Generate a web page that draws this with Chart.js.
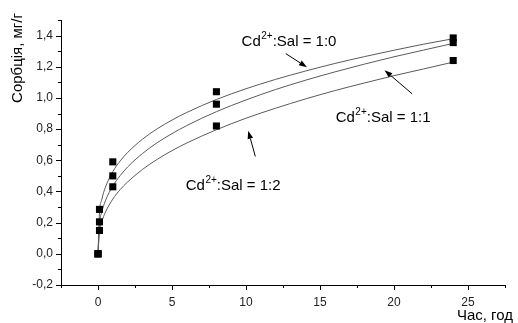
<!DOCTYPE html>
<html>
<head>
<meta charset="utf-8">
<script src="https://cdn.jsdelivr.net/npm/chart.js@4/dist/chart.umd.min.js"></script>
<style>
html,body{margin:0;padding:0;background:#fff;}
canvas{display:block;}
</style>
</head>
<body>
<canvas id="c" width="518" height="323"></canvas>
<script>
// ---- data ----
const timePoints = [0, 0.1, 1, 8, 24];
const sorb10 = [0, 0.285, 0.59, 1.04, 1.385];
const sorb11 = [0, 0.205, 0.50, 0.96, 1.355];
const sorb12 = [0, 0.15, 0.43, 0.82, 1.24];

const timeCurve = [0, 0.1, 0.25, 0.5, 1, 1.5, 2, 3, 4, 5, 6, 8, 10, 12, 14, 16, 18, 20, 22, 24];
const curve10 = [0, 0.262, 0.346, 0.427, 0.527, 0.596, 0.650, 0.735, 0.802, 0.858, 0.907, 0.990, 1.059, 1.119, 1.172, 1.221, 1.265, 1.306, 1.345, 1.380];
const curve11 = [0, 0.192, 0.266, 0.340, 0.435, 0.502, 0.557, 0.643, 0.713, 0.771, 0.823, 0.912, 0.987, 1.054, 1.113, 1.167, 1.217, 1.264, 1.307, 1.350];
const curve12 = [0, 0.142, 0.203, 0.267, 0.351, 0.412, 0.461, 0.541, 0.606, 0.662, 0.711, 0.796, 0.870, 0.934, 0.993, 1.047, 1.096, 1.143, 1.186, 1.230];

const seriesRatios = ['1:0', '1:1', '1:2'];
const xTitle = 'Час, год';
const yTitle = 'Сорбція, мг/г';

// annotation anchors (data coordinates)
const annotations = [
  {ratio: seriesRatios[0], tx: 9.70, ty: 1.333, fx: 12.69, fy: 1.284, toX: 14.12, toY: 1.197},
  {ratio: seriesRatios[1], tx: 16.06, ty: 0.843, fx: 21.23, fy: 1.026, toX: 19.36, toY: 1.178},
  {ratio: seriesRatios[2], tx: 5.93, ty: 0.408, fx: 10.63, fy: 0.625, toX: 10.15, toY: 0.789}
];

const toXY = (xs, ys) => xs.map((x, i) => ({x: x, y: ys[i]}));

const FONT = '"Liberation Sans", Arial, sans-serif';

const pointDs = (data) => ({
  data: data, showLine: false, pointStyle: 'rect', pointRadius: 5, pointHoverRadius: 5,
  backgroundColor: '#000', borderColor: '#000', borderWidth: 0
});
const curveDs = (data) => ({
  data: data, showLine: true, pointRadius: 0, borderColor: '#5a5a5a', borderWidth: 1,
  cubicInterpolationMode: 'monotone', fill: false
});

const extras = {
  id: 'extras',
  afterDraw(chart) {
    const ctx = chart.ctx, xs = chart.scales.x, ys = chart.scales.y, ca = chart.chartArea;
    ctx.save();
    ctx.strokeStyle = '#000';
    ctx.lineWidth = 1;
    // x ticks
    for (let i = -1; i <= 11; i++) {
      const v = i * 2.5;
      const px = Math.round(xs.getPixelForValue(v)) + 0.5;
      const len = (i % 2 === 0) ? 5 : 3;
      ctx.beginPath(); ctx.moveTo(px, ca.bottom); ctx.lineTo(px, ca.bottom + len); ctx.stroke();
    }
    // y ticks
    for (let i = -2; i <= 15; i++) {
      const v = i / 10;
      const py = Math.round(ys.getPixelForValue(v)) + 0.5;
      const len = (i % 2 === 0) ? 5 : 3;
      ctx.beginPath(); ctx.moveTo(ca.left, py); ctx.lineTo(ca.left - len, py); ctx.stroke();
    }
    // axis titles
    ctx.fillStyle = '#000';
    ctx.font = '15px ' + FONT;
    ctx.textAlign = 'right'; ctx.textBaseline = 'alphabetic';
    ctx.fillText(xTitle, 513, 320);
    ctx.save();
    ctx.translate(22, 58);
    ctx.rotate(-Math.PI / 2);
    ctx.textAlign = 'center';
    ctx.fillText(yTitle, 0, 0);
    ctx.restore();
    // annotations
    annotations.forEach(a => {
      let x = xs.getPixelForValue(a.tx), y = ys.getPixelForValue(a.ty);
      ctx.textAlign = 'left'; ctx.textBaseline = 'alphabetic';
      ctx.font = '15px ' + FONT;
      ctx.fillText('Cd', x, y); x += ctx.measureText('Cd').width + 0.5;
      ctx.font = '10px ' + FONT;
      ctx.fillText('2+', x, y - 7); x += ctx.measureText('2+').width;
      ctx.font = '15px ' + FONT;
      ctx.fillText(':Sal = ' + a.ratio, x, y);
      // arrow
      const x1 = xs.getPixelForValue(a.fx), y1 = ys.getPixelForValue(a.fy);
      const x2 = xs.getPixelForValue(a.toX), y2 = ys.getPixelForValue(a.toY);
      const ang = Math.atan2(y2 - y1, x2 - x1);
      const hl = 8, hw = 2.8;
      const bx = x2 - hl * Math.cos(ang), by = y2 - hl * Math.sin(ang);
      ctx.beginPath(); ctx.moveTo(x1, y1); ctx.lineTo(bx, by); ctx.stroke();
      ctx.beginPath();
      ctx.moveTo(x2, y2);
      ctx.lineTo(bx + hw * Math.sin(ang), by - hw * Math.cos(ang));
      ctx.lineTo(bx - hw * Math.sin(ang), by + hw * Math.cos(ang));
      ctx.closePath(); ctx.fill();
    });
    ctx.restore();
  }
};

new Chart(document.getElementById('c'), {
  type: 'scatter',
  data: {
    datasets: [
      pointDs(toXY(timePoints, sorb10)),
      pointDs(toXY(timePoints, sorb11)),
      pointDs(toXY(timePoints, sorb12)),
      curveDs(toXY(timeCurve, curve10)),
      curveDs(toXY(timeCurve, curve11)),
      curveDs(toXY(timeCurve, curve12))
    ]
  },
  options: {
    responsive: false,
    animation: false,
    devicePixelRatio: 1,
    layout: {padding: {top: 20, right: 13, left: 0, bottom: 0}},
    plugins: {legend: {display: false}, tooltip: {enabled: false}},
    scales: {
      x: {
        type: 'linear', min: -2.5, max: 27.5,
        grid: {display: false, drawTicks: false},
        border: {display: true, color: '#000', width: 1},
        afterFit: s => { s.height = 38; },
        ticks: {
          stepSize: 2.5, padding: 10, maxRotation: 0, autoSkip: false,
          color: '#222', font: {family: FONT, size: 12},
          callback: v => (Math.abs(v % 5) < 1e-9 ? String(v) : '')
        }
      },
      y: {
        type: 'linear', min: -0.2, max: 1.5,
        grid: {display: false, drawTicks: false},
        border: {display: true, color: '#000', width: 1},
        afterFit: s => { s.width = 61; },
        ticks: {
          stepSize: 0.1, padding: 8, autoSkip: false,
          color: '#222', font: {family: FONT, size: 12},
          callback: v => {
            const i = Math.round(v * 10);
            return (i % 2 === 0) ? (i / 10).toFixed(1).replace('.', ',') : '';
          }
        }
      }
    }
  },
  plugins: [extras]
});
</script>
</body>
</html>
